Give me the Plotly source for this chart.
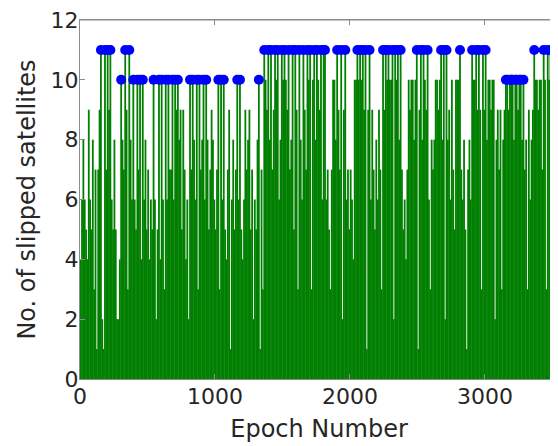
import plotly.graph_objects as go

# Number of slipped satellites, one value per 10-epoch bin
slipped_0000_0499 = [4, 6, 8, 6, 5, 4, 9, 6, 5, 8,
                     3, 7, 1, 7, 9, 11, 2, 1, 11, 7,
                     11, 9, 11, 6, 5, 8, 5, 2, 2, 4,
                     10, 8, 7, 11, 9, 3, 11, 8, 6, 10,
                     6, 5, 10, 7, 10, 4, 10, 6, 8, 5]
slipped_0500_0999 = [7, 4, 6, 5, 10, 6, 2, 5, 10, 4,
                     10, 6, 3, 10, 6, 10, 7, 7, 10, 6,
                     10, 9, 10, 8, 9, 5, 9, 7, 4, 6,
                     2, 10, 7, 10, 8, 6, 10, 3, 10, 7,
                     8, 10, 6, 10, 8, 5, 7, 9, 8, 6]
slipped_1000_1499 = [5, 7, 10, 3, 10, 6, 10, 5, 4, 7,
                     9, 1, 6, 8, 5, 7, 10, 6, 10, 5,
                     4, 6, 9, 7, 8, 9, 5, 7, 2, 6,
                     5, 8, 10, 1, 7, 3, 11, 10, 9, 11,
                     8, 11, 7, 9, 11, 10, 11, 6, 8, 11]
slipped_1500_1999 = [10, 11, 10, 9, 11, 7, 8, 11, 5, 11,
                     9, 3, 11, 8, 6, 11, 9, 7, 11, 10,
                     11, 3, 10, 11, 8, 11, 10, 9, 11, 6,
                     11, 11, 6, 7, 5, 3, 7, 10, 10, 8,
                     11, 9, 7, 11, 2, 9, 11, 6, 7, 5]
slipped_2000_2499 = [7, 6, 4, 10, 10, 11, 10, 11, 10, 11,
                     9, 11, 1, 9, 11, 6, 9, 7, 5, 8,
                     6, 9, 7, 3, 11, 9, 11, 10, 11, 10,
                     10, 11, 2, 11, 10, 11, 8, 11, 7, 5,
                     6, 4, 7, 10, 9, 10, 10, 8, 10, 11]
slipped_2500_2999 = [1, 9, 11, 8, 11, 10, 9, 11, 6, 3,
                     8, 7, 8, 10, 10, 9, 10, 11, 8, 11,
                     2, 11, 8, 9, 6, 10, 7, 5, 10, 10,
                     10, 11, 7, 6, 8, 5, 1, 7, 8, 6,
                     11, 10, 10, 11, 9, 11, 9, 3, 11, 9]
slipped_3000_3549 = [11, 8, 10, 10, 9, 10, 10, 2, 8, 9,
                     7, 9, 3, 8, 9, 10, 10, 9, 10, 10,
                     10, 8, 10, 10, 9, 10, 10, 8, 10, 7,
                     8, 3, 9, 6, 8, 9, 11, 10, 10, 9,
                     10, 10, 7, 11, 10, 3, 11, 10, 11, 10,
                     10, 9, 9, 10, 9]

# Number of tracked satellites (blue dot = all tracked satellites slipped)
sat_seg_start = [0, 290, 330, 380, 1340, 3140, 3340]
sat_seg_count = [11, 10, 11, 10, 11, 10, 11]

x_ticks = [0, 1000, 2000, 3000]
y_ticks = [0, 2, 4, 6, 8, 10, 12]

slipped = (slipped_0000_0499 + slipped_0500_0999 + slipped_1000_1499 +
           slipped_1500_1999 + slipped_2000_2499 + slipped_2500_2999 +
           slipped_3000_3549)
epoch_step = 10
epochs = [epoch_step * i + epoch_step // 2 for i in range(len(slipped))]


def sats_at(e):
    c = sat_seg_count[0]
    for s, n in zip(sat_seg_start, sat_seg_count):
        if e >= s:
            c = n
    return c


stem_x, stem_y = [], []
for e, v in zip(epochs, slipped):
    stem_x += [e, e, None]
    stem_y += [0, v, None]

dot_x = [e for e, v in zip(epochs, slipped) if v == sats_at(e)]
dot_y = [v for e, v in zip(epochs, slipped) if v == sats_at(e)]

fig = go.Figure()
fig.add_trace(go.Scatter(x=stem_x, y=stem_y, mode='lines',
                         line=dict(color='#007f00', width=1.8),
                         hoverinfo='skip'))
fig.add_trace(go.Scatter(x=dot_x, y=dot_y, mode='markers',
                         marker=dict(color='#0000ff', size=10, line=dict(width=0))))

axis_col = '#8c8c8c'
fig.update_layout(
    width=550, height=438,
    margin=dict(l=72, r=0, t=12, b=67),
    plot_bgcolor='white', paper_bgcolor='white',
    showlegend=False,
    font=dict(family='DejaVu Sans', size=22, color='#262626'),
    shapes=[dict(type='line', xref='x domain', yref='y domain',
                 x0=0, x1=1, y0=1, y1=1,
                 line=dict(color=axis_col, width=1))],
)
fig.update_xaxes(range=[0, 3541], tickvals=x_ticks, ticks='inside', ticklen=5,
                 tickcolor=axis_col, showline=True, linecolor=axis_col, linewidth=1,
                 mirror='ticks', showgrid=False, zeroline=False, ticklabelstandoff=-2,
                 ticklabeloverflow='allow',
                 title=dict(text='Epoch Number', font=dict(size=24), standoff=11))
fig.update_yaxes(range=[0, 12], tickvals=y_ticks, ticks='inside', ticklen=5,
                 tickcolor=axis_col, showline=True, linecolor=axis_col, linewidth=1,
                 showgrid=False, zeroline=False, ticklabelstandoff=-4,
                 ticklabeloverflow='allow',
                 title=dict(text='No. of slipped satellites', font=dict(size=24), standoff=8))

fig.write_html('out.html')
